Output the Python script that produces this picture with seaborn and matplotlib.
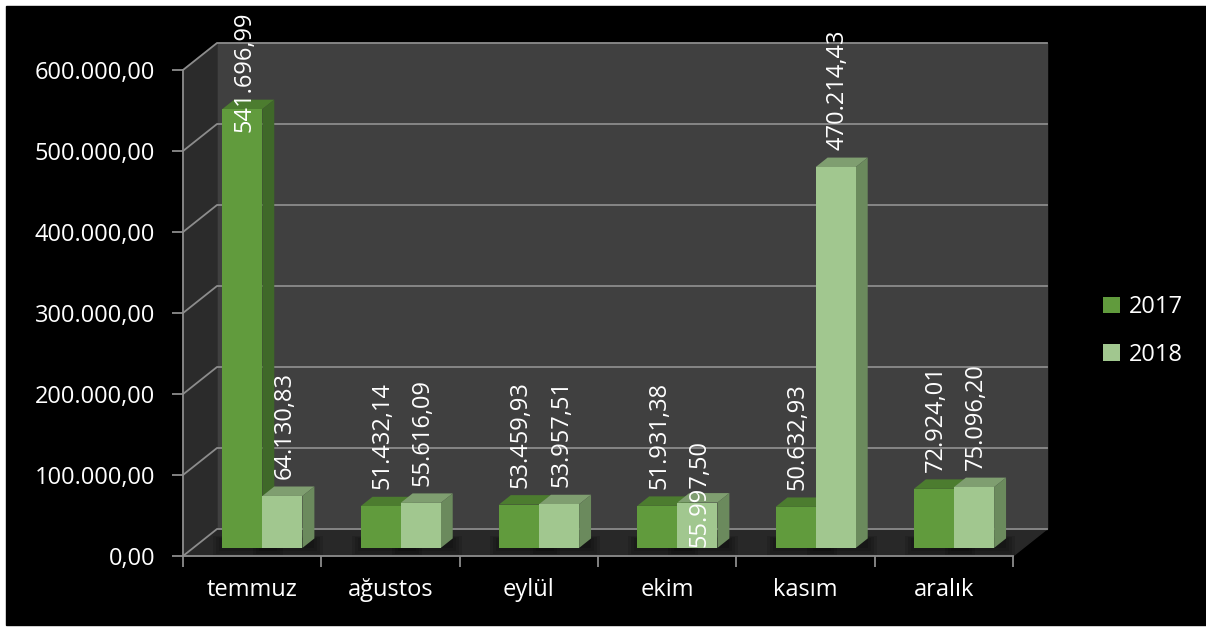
import numpy as np
import pandas as pd
import matplotlib
matplotlib.use('Agg')
from matplotlib import pyplot as plt
from matplotlib import transforms as mtrans
from matplotlib.patches import Polygon, Rectangle
from matplotlib.ticker import FuncFormatter, FixedLocator
import seaborn as sns

plt.rcParams['font.family'] = ['Open Sans', 'DejaVu Sans']

# data
months = ['temmuz', 'ağustos', 'eylül', 'ekim', 'kasım', 'aralık']
years = ['2017', '2018']
values_2017 = [541696.99, 51432.14, 53459.93, 51931.38, 50632.93, 72924.01]
values_2018 = [64130.83, 55616.09, 53957.51, 55997.50, 470214.43, 75096.20]
y_ticks = [0, 100000, 200000, 300000, 400000, 500000, 600000]

df = pd.DataFrame({'ay': months * 2,
                   'yil': ['2017'] * 6 + ['2018'] * 6,
                   'tutar': values_2017 + values_2018})

front_cols = {'2017': '#619b3d', '2018': '#a1c78f'}
top_cols = {'2017': '#4c7c2f', '2018': '#7f9e70'}
side_cols = {'2017': '#3f6829', '2018': '#6b8a5d'}
grid_col = '#8c8c8c'
FS = 17


def tr_fmt(v, pos=None):
    s = '{:,.2f}'.format(v)
    return s.replace(',', 'X').replace('.', ',').replace('X', '.')


W, H = 1206, 628
fig = plt.figure(figsize=(W / 100, H / 100), dpi=100, facecolor='white')
fig.add_artist(Rectangle((6 / W, 3 / H), 1 - 6 / W, (H - 9) / H,
                         transform=fig.transFigure, color='black', zorder=0))

ax = fig.add_axes([183 / W, (H - 556) / H, 830 / W, 486 / H])
ax.set_facecolor('none')

sns.barplot(df, x='ay', y='tutar', hue='yil', palette=front_cols, width=0.58,
            saturation=1, linewidth=0, ax=ax)
ax.set_xlim(-0.5, 5.5)
ax.set_ylim(0, 600000)
ax.set_xlabel('')
ax.set_ylabel('')

ident = mtrans.IdentityTransform()
to_disp = ax.transData.transform


def shift(dx, dy):
    return mtrans.ScaledTranslation(dx / 100, dy / 100, fig.dpi_scale_trans)


# 3d box: depth offset of the back wall in pixels
DX, DY = 34, 27
F0, F1 = 0.3, 0.65

x0, y0 = to_disp((-0.5, 0))
x1, ytop = to_disp((5.5, 600000))

ax.add_patch(Polygon([(x0 + DX, y0 + DY), (x1 + DX, y0 + DY), (x1 + DX, ytop + DY), (x0 + DX, ytop + DY)],
                     closed=True, color='#404040', transform=ident, clip_on=False, zorder=0.2))
ax.add_patch(Polygon([(x0, y0), (x0 + DX, y0 + DY), (x0 + DX, ytop + DY), (x0, ytop)],
                     closed=True, color='#2b2b2b', transform=ident, clip_on=False, zorder=0.2))
ax.add_patch(Polygon([(x0, y0), (x1, y0), (x1 + DX, y0 + DY), (x0 + DX, y0 + DY)],
                     closed=True, color='#282828', transform=ident, clip_on=False, zorder=0.2))

for v in y_ticks:
    yy = to_disp((0, v))[1]
    ax.plot([x0, x0 + DX, x1 + DX], [yy, yy + DY, yy + DY], color=grid_col, lw=1.3,
            transform=ident, clip_on=False, zorder=0.4)

# bars: shift fronts back into the box, add top and side faces
fx, fy = DX * F0, DY * F0
ddx, ddy = DX * (F1 - F0), DY * (F1 - F0)
fig.canvas.draw()
renderer = fig.canvas.get_renderer()

for cont, yr in zip(ax.containers, years):
    for bar, month in zip(cont, months):
        bx, bw, bh = bar.get_x(), bar.get_width(), bar.get_height()
        bx0, by0 = to_disp((bx, 0))
        bx1, by1 = to_disp((bx + bw, bh))
        bar.set_transform(ax.transData + shift(fx, fy))
        bar.set_zorder(3)
        bar.set_clip_on(False)
        # soft shadow on the floor
        for k in range(4):
            g = 3 * k
            ax.add_patch(Polygon([(bx0 + fx - g, by0 + fy - g), (bx1 + fx + ddx + g, by0 + fy - g),
                                  (bx1 + fx + ddx + g, by0 + fy + ddy + g * 0.3), (bx0 + fx - g, by0 + fy + ddy + g * 0.3)],
                                 closed=True, color='black', alpha=0.12, lw=0,
                                 transform=ident, clip_on=False, zorder=0.3))
        ax.add_patch(Polygon([(bx0 + fx, by1 + fy), (bx1 + fx, by1 + fy),
                              (bx1 + fx + ddx, by1 + fy + ddy), (bx0 + fx + ddx, by1 + fy + ddy)],
                             closed=True, color=top_cols[yr], lw=0,
                             transform=ident, clip_on=False, zorder=2.5))
        ax.add_patch(Polygon([(bx1 + fx, by0 + fy), (bx1 + fx + ddx, by0 + fy + ddy),
                              (bx1 + fx + ddx, by1 + fy + ddy), (bx1 + fx, by1 + fy)],
                             closed=True, color=side_cols[yr], lw=0,
                             transform=ident, clip_on=False, zorder=2.5))
        # value label
        cx = (bx0 + bx1) / 2 + fx + 2
        if (month, yr) == ('ekim', '2018'):
            ly = by0 + fy + 1
        else:
            ly = by1 + fy + 17
        t = ax.text(cx, ly, tr_fmt(bh), rotation=90, ha='center', va='bottom',
                    color='white', fontsize=FS, transform=ident, clip_on=False, zorder=4)
        th = t.get_window_extent(renderer).height
        if ly + th > H - 12:
            t.set_y(H - 12 - th)

# axes styling
for s in ['top', 'right']:
    ax.spines[s].set_visible(False)
for s in ['left', 'bottom']:
    ax.spines[s].set_color(grid_col)
    ax.spines[s].set_linewidth(1.3)

ax.yaxis.set_major_locator(FixedLocator(y_ticks))
ax.yaxis.set_major_formatter(FuncFormatter(tr_fmt))
ax.tick_params(axis='y', colors=grid_col, labelcolor='white', length=8, width=1.3,
               pad=12, labelsize=FS)
ax.xaxis.set_minor_locator(FixedLocator(np.arange(-0.5, 6, 1)))
ax.tick_params(axis='x', which='major', length=0, pad=16, labelcolor='white', labelsize=FS)
ax.tick_params(axis='x', which='minor', length=8, width=1.3, colors=grid_col)

handles, labels = ax.get_legend_handles_labels()
ax.get_legend().remove()
fig.legend(handles, labels, loc='center left', bbox_to_anchor=(1082 / W, 1 - 331 / H),
           frameon=False, labelcolor='white', fontsize=FS, handlelength=0.7,
           handleheight=0.7, handletextpad=0.4, labelspacing=1.0)

fig.savefig('out.png', dpi=100, facecolor=fig.get_facecolor())
